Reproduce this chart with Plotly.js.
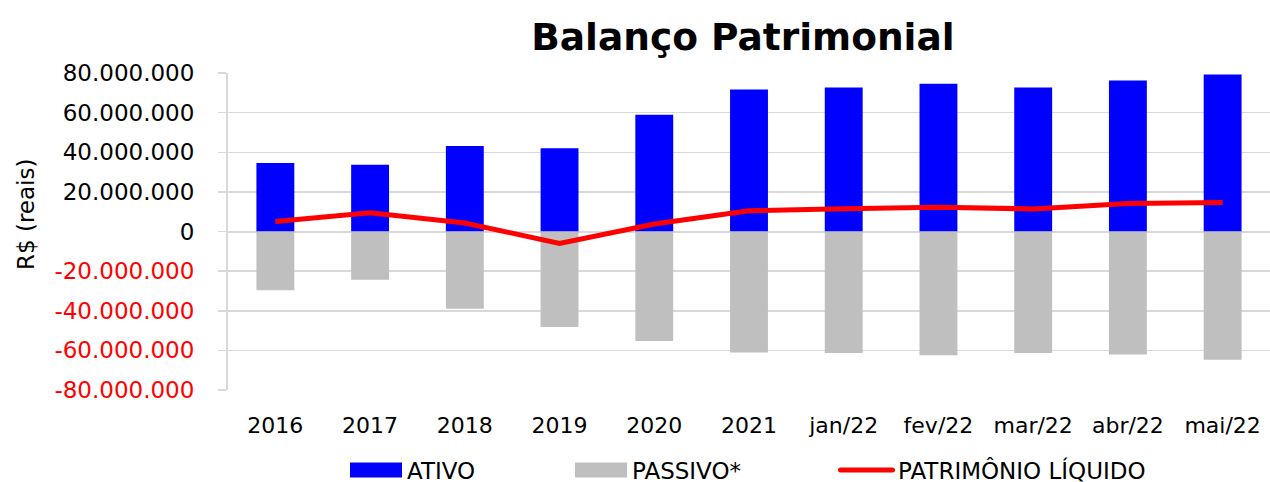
<!DOCTYPE html>
<html>
<head>
<meta charset="utf-8">
<script src="https://cdn.plot.ly/plotly-3.0.1.min.js"></script>
<style>html,body{margin:0;padding:0;background:#fff;}#chart{width:1270px;height:482px;}</style>
</head>
<body>
<div id="chart"></div>
<script>
const categories = ['2016','2017','2018','2019','2020','2021','jan/22','fev/22','mar/22','abr/22','mai/22'];
const ativo   = [34600000, 33700000, 43100000, 42000000, 58900000, 71700000, 72700000, 74600000, 72700000, 76200000, 79200000];
const passivo = [-29600000, -24400000, -39000000, -48200000, -55300000, -61100000, -61300000, -62500000, -61300000, -62100000, -64700000];
const patrimonio = [5000000, 9400000, 4300000, -6000000, 3800000, 10500000, 11500000, 12300000, 11400000, 14100000, 14700000];
const yTickVals = [80000000, 60000000, 40000000, 20000000, 0, -20000000, -40000000, -60000000, -80000000];

function fmt(v){
  const s = Math.abs(v).toString().replace(/\B(?=(\d{3})+(?!\d))/g, '.');
  return v < 0 ? '<span style="color:#FF0000">-' + s + '</span>' : s;
}
const yTickText = yTickVals.map(fmt);
const boundaryTicks = categories.map((c, i) => i - 0.5).concat([categories.length - 0.5]);

const FONT = '"DejaVu Sans", Verdana, sans-serif';
const GRID = '#D9D9D9';

const traces = [
  {type:'bar', name:'ATIVO', x:categories, y:ativo, marker:{color:'#0000FF'}, legend:'legend'},
  {type:'bar', name:'PASSIVO*', x:categories, y:passivo, marker:{color:'#BFBFBF'}, legend:'legend2'},
  {type:'scatter', mode:'lines', name:'PATRIMÔNIO LÍQUIDO', x:categories, y:patrimonio,
   line:{color:'#FF0000', width:5}, legend:'legend3'}
];

function leg(x){
  return {orientation:'h', xref:'container', yref:'container', x:x, xanchor:'left', y:0.025, yanchor:'middle',
          font:{family:FONT, size:23, color:'#000'}, itemwidth:52, bgcolor:'rgba(0,0,0,0)', borderwidth:0};
}

const layout = {
  width:1270, height:482,
  margin:{l:228, r:0, t:73, b:92},
  paper_bgcolor:'#fff', plot_bgcolor:'#fff',
  font:{family:FONT, color:'#000', size:22},
  title:{text:'<b>Balanço Patrimonial</b>', font:{family:FONT, size:37.5, color:'#000'},
         xref:'container', x:0.585, xanchor:'center', yref:'container', y:0.924, yanchor:'middle'},
  barmode:'relative', bargap:0.6,
  showlegend:true,
  legend: leg(345/1270),
  legend2: leg(570/1270),
  legend3: leg(836/1270),
  xaxis:{type:'category', range:[-0.5, 10.5], showgrid:false, zeroline:false, showline:false,
         ticks:'', tickfont:{family:FONT, size:22, color:'#000'}, ticklabelstandoff:20, fixedrange:true},
  xaxis2:{overlaying:'x', anchor:'free', position:0.5, side:'bottom', type:'linear', range:[-0.5, 10.5],
          tickmode:'array', tickvals:boundaryTicks, ticks:'outside', ticklen:8, tickwidth:1.5, tickcolor:GRID,
          showticklabels:false, showgrid:false, zeroline:false, showline:false},
  yaxis:{range:[-80000000, 80000000], tickmode:'array', tickvals:yTickVals, ticktext:yTickText,
         showgrid:true, gridcolor:GRID, gridwidth:1.5, zeroline:true, zerolinecolor:GRID, zerolinewidth:2,
         showline:true, linecolor:GRID, linewidth:2, ticks:'outside', ticklen:8, tickwidth:1.5, tickcolor:GRID,
         tickfont:{family:FONT, size:23, color:'#000'}, ticklabelstandoff:19},
  annotations:[{text:'R$ (reais)', textangle:-90, xref:'paper', yref:'paper', x:(26 - 228) / 1042, xanchor:'center',
                y:(390 - 215) / 317, yanchor:'middle', showarrow:false, font:{family:FONT, size:23, color:'#000'}}]
};

function widenLegendKeys(gd){
  gd.querySelectorAll('.infolayer g.traces').forEach(function(t){
    t.querySelectorAll('.legendpoints path').forEach(function(p){
      p.setAttribute('transform', 'translate(0,0)');
      p.setAttribute('d', 'M5,-7.5h52v15h-52z');
    });
    t.querySelectorAll('.legendlines path').forEach(function(p){
      p.setAttribute('d', 'M4.5,0h52');
      p.style.strokeLinecap = 'round';
    });
  });
}

Plotly.newPlot('chart', traces, layout, {staticPlot:true, displayModeBar:false}).then(function(gd){
  widenLegendKeys(gd);
  setTimeout(function(){ widenLegendKeys(gd); }, 0);
  setTimeout(function(){ widenLegendKeys(gd); }, 50);
  gd.on('plotly_afterplot', function(){ widenLegendKeys(gd); });
});
</script>
</body>
</html>
